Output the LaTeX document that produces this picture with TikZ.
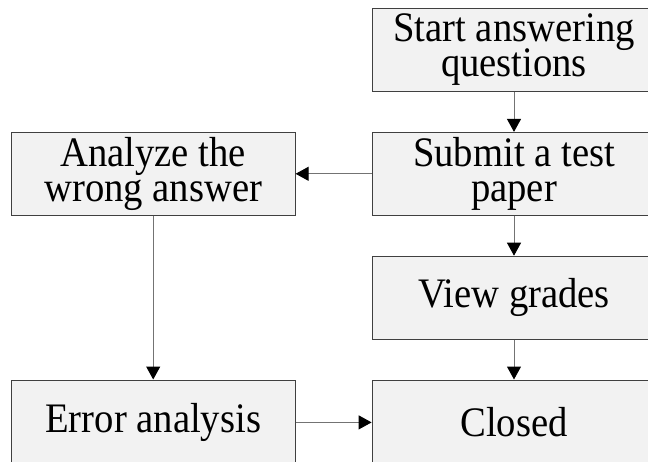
\documentclass[tikz,border=0pt]{standalone}
\usepackage{fontspec}
\setmainfont[FakeStretch=0.92]{Liberation Serif}
\usepackage{tikz}
\usetikzlibrary{positioning,arrows.meta}
\newcommand\boxfont{\fontsize{42}{35}\selectfont\lineskiplimit=-50pt\relax}

\begin{document}
\begin{tikzpicture}[
  every node/.style={draw=black!75, fill=black!5, line width=0.8pt, align=center,
    inner sep=0pt, minimum width=284pt, minimum height=83pt, font=\boxfont},
  link/.style={draw=black!55, line width=1pt, -{Triangle[length=13pt,width=14pt,color=black]}}
]
\useasboundingbox (0pt,0pt) rectangle (648pt,-461pt);

\node (start) at (514pt,-50pt) {Start answering\\questions};
\node (submit) [below=40pt of start] {Submit a test\\paper};
\node (grades) [below=40pt of submit] {View grades};
\node (closed) [below=40pt of grades, minimum height=85pt] {Closed};

\node (analyze) [left=76pt of submit] {Analyze the\\wrong answer};
\node (error) [left=76pt of closed, minimum height=85pt] {Error analysis};

\draw[link] (start) -- (submit);
\draw[link] (submit) -- (grades);
\draw[link] (grades) -- (closed);

\draw[link] (submit) -- (analyze);
\draw[link] (analyze) -- (error);
\draw[link] (error) -- (closed);
\end{tikzpicture}
\end{document}
